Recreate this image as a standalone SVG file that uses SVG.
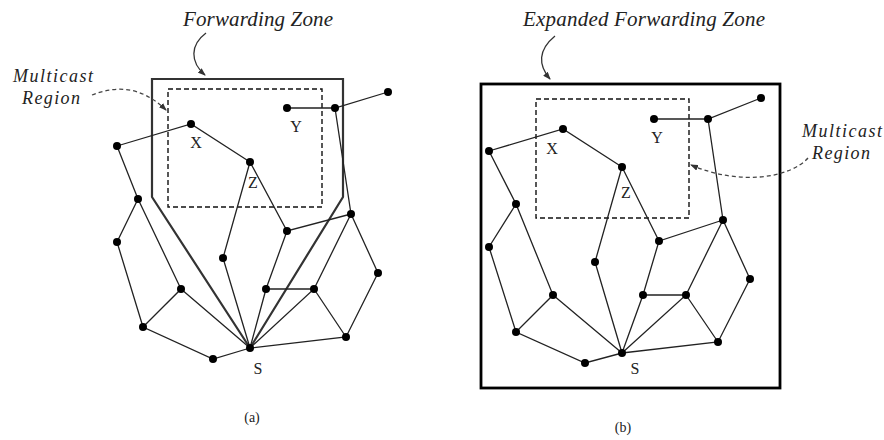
<svg xmlns="http://www.w3.org/2000/svg" width="884" height="440" viewBox="0 0 884 440">
<style>
.title{font-family:"Liberation Serif","Times New Roman",serif;font-style:italic;font-size:21px;fill:#222;text-anchor:middle}
.mrl{font-family:"Liberation Serif","Times New Roman",serif;font-style:italic;font-size:18px;fill:#222;text-anchor:middle}
.lbl{font-family:"Liberation Serif","Times New Roman",serif;font-size:16px;fill:#222;text-anchor:middle}
.cap{font-family:"Liberation Serif","Times New Roman",serif;font-size:14px;fill:#222;text-anchor:middle}
.e{stroke:#222;stroke-width:1.3;fill:none}
.n{fill:#000}
.fz{stroke:#333;stroke-width:2.2;fill:none}
.mr{stroke:#111;stroke-width:1.4;stroke-dasharray:5,3;fill:none}
.pt{stroke:#333;stroke-width:1.3;fill:none}
.ptd{stroke:#444;stroke-width:1.3;stroke-dasharray:4,3;fill:none}
</style>
<defs>
<marker id="ah" markerWidth="8" markerHeight="6" refX="7" refY="3" orient="auto" markerUnits="userSpaceOnUse">
<path d="M0,0 L8,3 L0,6 z" fill="#333"/>
</marker>
</defs>
<rect width="884" height="440" fill="#fff"/>

<!-- Panel (a) -->
<g id="a-zones">
<path class="fz" d="M250,348 L152,197 L152,79 L343,79 L343,197 Z" stroke-linejoin="miter"/>
<rect class="mr" x="168" y="89" width="154" height="118"/>
<text class="title" x="258" y="26" textLength="150">Forwarding Zone</text>
<text class="mrl" x="53" y="82" textLength="80">Multicast</text>
<text class="mrl" x="51" y="104" textLength="58">Region</text>
<path class="pt" d="M206,33 C190,45 190,62 205,75" marker-end="url(#ah)"/>
<path class="ptd" d="M92,95 C115,86 140,85 166,110" marker-end="url(#ah)"/>
</g>
<g id="a-connectors">
<path class="e" d="M117,146 L191,124 L250,162 M287,108 L335,108 L388,92 M335,108 L351,214 M117,146 L138,199 L117,242 L143,327 L213,359 L250,348 M138,199 L181,289 L143,327 M181,289 L250,348 M250,162 L223,258 L250,348 M250,162 L287,231 L351,214 M287,231 L266,289 L250,348 M266,289 L314,289 L250,348 M314,289 L351,214 L378,273 L346,337 L250,348 M314,289 L346,337"/>
</g>
<g id="a-nodes">
<circle class="n" cx="191" cy="124" r="4"/>
<circle class="n" cx="117" cy="146" r="4"/>
<circle class="n" cx="250" cy="162" r="4"/>
<circle class="n" cx="287" cy="108" r="4"/>
<circle class="n" cx="335" cy="108" r="4"/>
<circle class="n" cx="388" cy="92" r="4"/>
<circle class="n" cx="138" cy="199" r="4"/>
<circle class="n" cx="351" cy="214" r="4"/>
<circle class="n" cx="117" cy="242" r="4"/>
<circle class="n" cx="287" cy="231" r="4"/>
<circle class="n" cx="223" cy="258" r="4"/>
<circle class="n" cx="378" cy="273" r="4"/>
<circle class="n" cx="181" cy="289" r="4"/>
<circle class="n" cx="266" cy="289" r="4"/>
<circle class="n" cx="314" cy="289" r="4"/>
<circle class="n" cx="143" cy="327" r="4"/>
<circle class="n" cx="346" cy="337" r="4"/>
<circle class="n" cx="250" cy="348" r="4"/>
<circle class="n" cx="213" cy="359" r="4"/>
<text class="lbl" x="196" y="148">X</text>
<text class="lbl" x="296" y="132">Y</text>
<text class="lbl" x="253" y="188">Z</text>
<text class="lbl" x="258" y="374">S</text>
<text class="cap" x="252" y="422">(a)</text>
</g>

<!-- Panel (b) -->
<g id="b-zones">
<rect x="481" y="84" width="299" height="304" fill="none" stroke="#000" stroke-width="2.8"/>
<rect class="mr" x="536" y="99" width="153" height="119"/>
<text class="title" x="644" y="26" textLength="242">Expanded Forwarding Zone</text>
<text class="mrl" x="842" y="137" textLength="80">Multicast</text>
<text class="mrl" x="841" y="159" textLength="58">Region</text>
<path class="pt" d="M555,36 C538,50 538,65 550,79" marker-end="url(#ah)"/>
<path class="ptd" d="M808,158 C790,178 740,186 691,165" marker-end="url(#ah)"/>
</g>
<g id="b-connectors">
<path class="e" d="M489,151 L563,129 L622,167 M654,119 L708,119 L761,98 M708,119 L723,220 M489,151 L516,204 L489,247 L516,332 L585,363 L622,353 M516,204 L553,295 L516,332 M553,295 L622,353 M622,167 L595,262 L622,353 M622,167 L659,241 L723,220 M659,241 L643,295 L622,353 M643,295 L686,295 L622,353 M686,295 L723,220 L750,279 L718,342 L622,353 M686,295 L718,342"/>
</g>
<g id="b-nodes">
<circle class="n" cx="563" cy="129" r="4"/>
<circle class="n" cx="489" cy="151" r="4"/>
<circle class="n" cx="622" cy="167" r="4"/>
<circle class="n" cx="654" cy="119" r="4"/>
<circle class="n" cx="708" cy="119" r="4"/>
<circle class="n" cx="761" cy="98" r="4"/>
<circle class="n" cx="516" cy="204" r="4"/>
<circle class="n" cx="723" cy="220" r="4"/>
<circle class="n" cx="489" cy="247" r="4"/>
<circle class="n" cx="659" cy="241" r="4"/>
<circle class="n" cx="595" cy="262" r="4"/>
<circle class="n" cx="750" cy="279" r="4"/>
<circle class="n" cx="553" cy="295" r="4"/>
<circle class="n" cx="643" cy="295" r="4"/>
<circle class="n" cx="686" cy="295" r="4"/>
<circle class="n" cx="516" cy="332" r="4"/>
<circle class="n" cx="718" cy="342" r="4"/>
<circle class="n" cx="622" cy="353" r="4"/>
<circle class="n" cx="585" cy="363" r="4"/>
<text class="lbl" x="552" y="154">X</text>
<text class="lbl" x="657" y="143">Y</text>
<text class="lbl" x="626" y="198">Z</text>
<text class="lbl" x="635" y="374">S</text>
<text class="cap" x="623" y="432">(b)</text>
</g>
</svg>
